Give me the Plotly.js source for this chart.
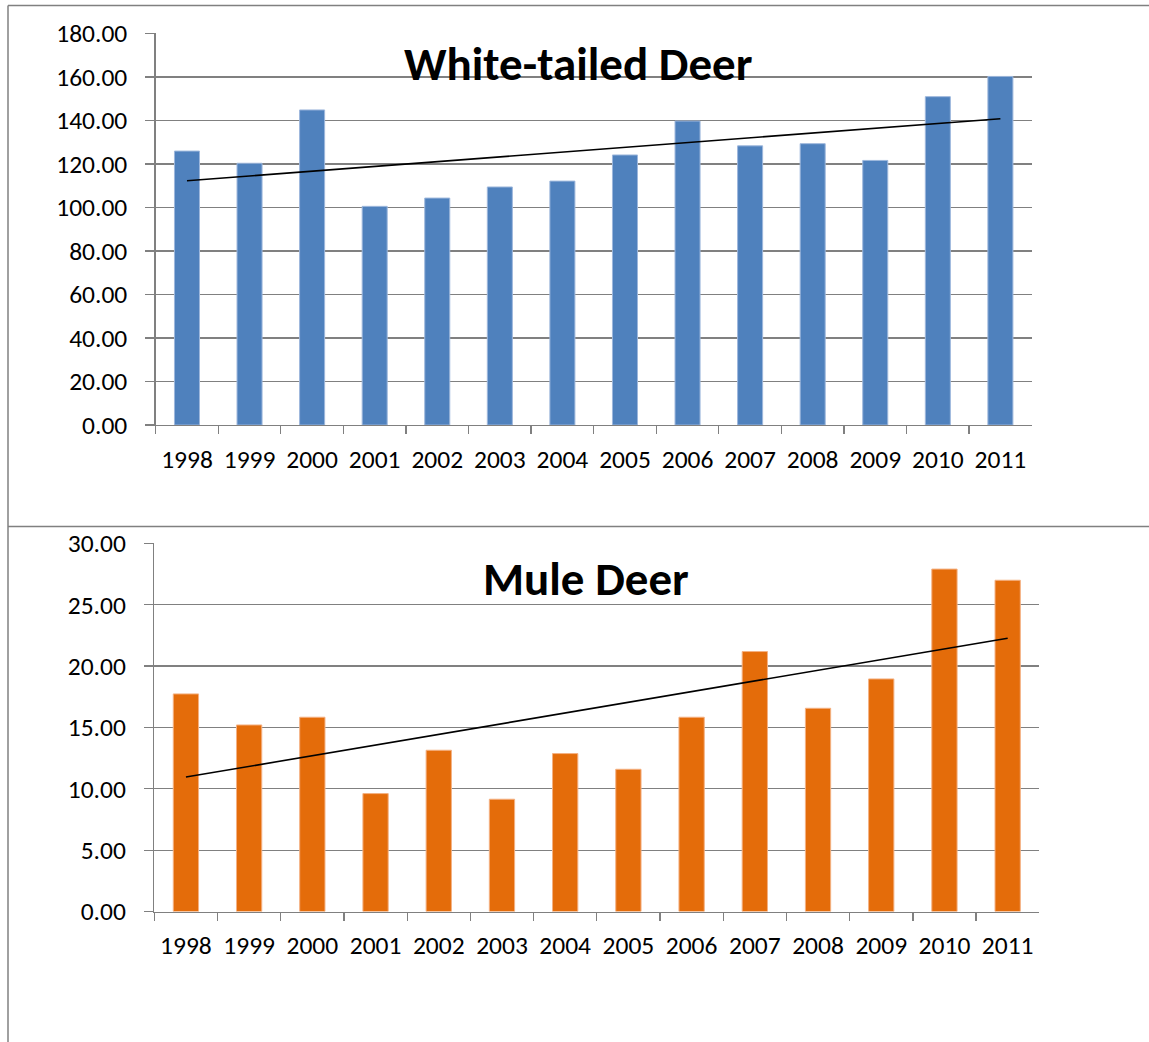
<!DOCTYPE html>
<html>
<head>
<meta charset="utf-8">
<script src="https://cdn.plot.ly/plotly-3.0.1.min.js"></script>
<style>html,body{margin:0;padding:0;background:#fff;}#chart{width:1149px;height:1042px;}</style>
</head>
<body>
<div id="chart"></div>
<script>
var years = ["1998","1999","2000","2001","2002","2003","2004","2005","2006","2007","2008","2009","2010","2011"];
var whiteTailed = [125.9,120.3,144.8,100.5,104.3,109.4,112.1,124.1,139.7,128.3,129.3,121.6,150.9,160.2];
var muleDeer = [17.73,15.2,15.83,9.61,13.14,9.15,12.87,11.59,15.83,21.18,16.56,18.95,27.9,26.99];
var titleTop = "White-tailed Deer";
var titleBottom = "Mule Deer";

function trend(vals){
  var n = vals.length, mx = (n-1)/2, my = 0;
  for (var i=0;i<n;i++) my += vals[i];
  my /= n;
  var num=0, den=0;
  for (var i=0;i<n;i++){ num += (i-mx)*(vals[i]-my); den += (i-mx)*(i-mx); }
  var b = num/den, a = my - b*mx;
  return [a, a + b*(n-1)];
}

var FONT = "Calibri, Carlito, Lato, sans-serif";
var GRAY = "#808080";

var tTop = trend(whiteTailed), tBot = trend(muleDeer);

var data = [
  {type:"bar", x:years, y:whiteTailed, xaxis:"x", yaxis:"y",
   marker:{color:"#4F81BD", line:{color:"#9DB7DC", width:1}}, hoverinfo:"x+y"},
  {type:"scatter", mode:"lines", x:[years[0], years[years.length-1]], y:tTop, xaxis:"x", yaxis:"y",
   line:{color:"#000", width:1.6}},
  {type:"bar", x:years, y:muleDeer, xaxis:"x2", yaxis:"y2",
   marker:{color:"#E46C0A", line:{color:"#F4B183", width:1}}, hoverinfo:"x+y"},
  {type:"scatter", mode:"lines", x:[years[0], years[years.length-1]], y:tBot, xaxis:"x2", yaxis:"y2",
   line:{color:"#000", width:1.6}}
];

function xax(dom, anchor){
  return {domain:dom, anchor:anchor, type:"category", range:[-0.5, 13.5],
    tickson:"boundaries", ticks:"outside", ticklen:8, tickcolor:GRAY, tickwidth:1.3,
    showline:true, linecolor:GRAY, linewidth:1.3, showgrid:false, zeroline:false,
    tickfont:{family:FONT, size:25.5, color:"#000"}, ticklabelstandoff:11, fixedrange:true};
}
function yax(dom, anchor, max, dt){
  return {domain:dom, anchor:anchor, range:[0,max], dtick:dt, tick0:0, tickformat:".2f",
    ticks:"outside", ticklen:9, tickcolor:GRAY, tickwidth:1.3,
    showline:true, linecolor:GRAY, linewidth:1.3, showgrid:true, gridcolor:GRAY, gridwidth:1.3,
    zeroline:false, tickfont:{family:FONT, size:25.5, color:"#000"}, ticklabelstandoff:13, fixedrange:true};
}

var layout = {
  width:1149, height:1042, margin:{l:0,r:0,t:0,b:0},
  paper_bgcolor:"#fff", plot_bgcolor:"#fff", showlegend:false, bargap:0.6,
  xaxis: xax([0.1355, 0.8979], "y"),
  yaxis: yax([0.5921, 0.968], "x", 180, 20),
  xaxis2: xax([0.1343, 0.9045], "y2"),
  yaxis2: yax([0.1252, 0.4786], "x2", 30, 5),
  annotations:[
    {text:"<b>"+titleTop+"</b>", xref:"paper", yref:"paper", x:578/1149, y:1-64/1042,
     xanchor:"center", yanchor:"middle", showarrow:false, font:{family:FONT, size:47, color:"#000"}},
    {text:"<b>"+titleBottom+"</b>", xref:"paper", yref:"paper", x:586/1149, y:1-579/1042,
     xanchor:"center", yanchor:"middle", showarrow:false, font:{family:FONT, size:47, color:"#000"}}
  ],
  shapes:[
    {type:"line", xref:"paper", yref:"paper", x0:8/1149, x1:1, y0:1-5.5/1042, y1:1-5.5/1042, line:{color:GRAY, width:1.5}},
    {type:"line", xref:"paper", yref:"paper", x0:8/1149, x1:8/1149, y0:0, y1:1-5.5/1042, line:{color:GRAY, width:1.5}},
    {type:"line", xref:"paper", yref:"paper", x0:8/1149, x1:1, y0:1-526.5/1042, y1:1-526.5/1042, line:{color:GRAY, width:1.5}}
  ]
};

Plotly.newPlot("chart", data, layout, {displayModeBar:false, staticPlot:true});
</script>
</body>
</html>
